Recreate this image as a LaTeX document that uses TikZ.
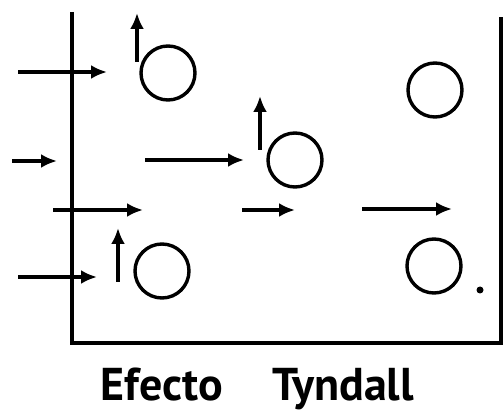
\documentclass[tikz,border=0pt]{standalone}
\usepackage{fontspec}
\newfontfamily\capfont{PT Sans}
\usetikzlibrary{calc, arrows.meta, positioning}
\tikzset{
    particle/.style = {circle, draw, line width=3.4pt, minimum size=54pt, inner sep=0pt}, % one colloid particle
    ray/.style = {line width=3.4pt, -{Latex[length=16pt, width=14pt]}}, % light ray
    wall/.style = {line width=3.6pt},
    caption/.style = {font=\capfont\bfseries\fontsize{46}{46}\selectfont, inner sep=0pt, anchor=base}
}
\begin{document}
\begin{tikzpicture}[x=1pt, y=-1pt]
        \useasboundingbox (0,0) rectangle (504,414);

        %container

        \coordinate (LT) at (72,12);
        \coordinate (LB) at (72,343);
        \coordinate (RB) at (501,343);
        \coordinate (RT) at (501,17);
        \draw[wall] (LT) -- (LB) -- (RB) -- (RT);

        %particles

        \node(P1)[particle] at (168,73) {};
        \node(P2)[particle] at (295,160) {};
        \node(P3)[particle] at (435,90) {};
        \node(P4)[particle] at (162,271) {};
        \node(P5)[particle] at (434,266) {};
        \fill (480,290) circle[radius=3.5pt];

        %ray ends

        \coordinate (A1) at (18,72);   \coordinate (B1) at (107,72);
        \coordinate (A2) at (12,161);  \coordinate (B2) at (57,161);
        \coordinate (A3) at (145,160); \coordinate (B3) at (244,160);
        \coordinate (A4) at (53,210);  \coordinate (B4) at (143,210);
        \coordinate (A5) at (242,210); \coordinate (B5) at (295,210);
        \coordinate (A6) at (362,209); \coordinate (B6) at (452,209);
        \coordinate (A7) at (18,277);  \coordinate (B7) at (97,277);
        \coordinate (U1) at (137,62);  \coordinate (V1) at (137,13);
        \coordinate (U2) at (260,150); \coordinate (V2) at (260,96);
        \coordinate (U3) at (118,282); \coordinate (V3) at (118,228);

        %arrows

        \draw[ray] (A1) -- (B1);
        \draw[ray] (A2) -- (B2);
        \draw[ray] (A3) -- (B3);
        \draw[ray] (A4) -- (B4);
        \draw[ray] (A5) -- (B5);
        \draw[ray] (A6) -- (B6);
        \draw[ray] (A7) -- (B7);
        \draw[ray] (U1) -- (V1);
        \draw[ray] (U2) -- (V2);
        \draw[ray] (U3) -- (V3);

        %caption

        \node(E)[caption] at (162,400) {Efecto};
        \node(T)[caption] at (343,400) {Tyndall};
    \end{tikzpicture}
\end{document}
